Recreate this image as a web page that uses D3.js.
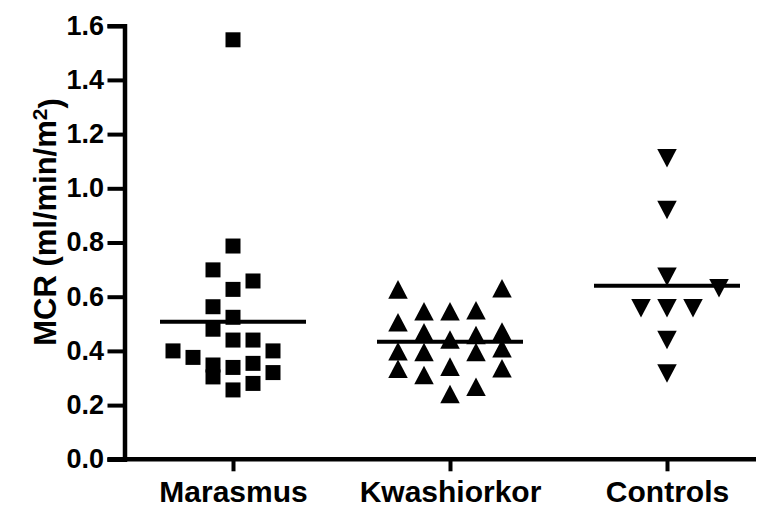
<!DOCTYPE html>
<html>
<head>
<meta charset="utf-8">
<script src="https://cdn.jsdelivr.net/npm/d3@7"></script>
<style>
  html, body { margin: 0; padding: 0; background: #fff; }
  svg { display: block; }
  text { font-family: "Liberation Sans", Arial, sans-serif; font-weight: bold; fill: #000; }
</style>
</head>
<body>
<svg id="chart" width="768" height="510"></svg>
<script>
// Groups shown along the x axis
const groups = ["Marasmus", "Kwashiorkor", "Controls"];

// MCR values (ml/min/m²) per subject, with the scatter column each point sits in
const marasmusValues = [1.548, 0.787, 0.699, 0.658, 0.627, 0.563, 0.524, 0.480, 0.440, 0.440,
                        0.400, 0.376, 0.400, 0.348, 0.304, 0.339, 0.354, 0.320, 0.280, 0.256];
const marasmusCols   = [0, 0, -1, 1, 0, -1, 0, -1, 0, 1,
                        -3, -2, 2, -1, -1, 0, 1, 2, 1, 0];

const kwashiorkorValues = [0.627, 0.631, 0.546, 0.546, 0.550, 0.506, 0.469, 0.442, 0.459, 0.472,
                           0.399, 0.396, 0.396, 0.410, 0.334, 0.311, 0.342, 0.336, 0.241, 0.268];
const kwashiorkorCols   = [-2, 2, -1, 0, 1, -2, -1, 0, 1, 2,
                           -2, -1, 1, 2, -2, -1, 0, 2, 0, 1];

const controlsValues = [1.111, 0.920, 0.674, 0.631, 0.557, 0.557, 0.557, 0.440, 0.317];
const controlsCols   = [0, 0, 0, 2, -1, 0, 1, 0, 0];

// Y axis ticks
const yTicks = [0, 0.2, 0.4, 0.6, 0.8, 1.0, 1.2, 1.4, 1.6];

const series = [
  { name: "Marasmus",    values: marasmusValues,    cols: marasmusCols,    marker: "square" },
  { name: "Kwashiorkor", values: kwashiorkorValues, cols: kwashiorkorCols, marker: "up" },
  { name: "Controls",    values: controlsValues,    cols: controlsCols,    marker: "down" }
];

const svg = d3.select("#chart");
svg.append("rect").attr("width", 768).attr("height", 510).attr("fill", "#fff");

const axisX = 124.5;     // position of the vertical axis line
const baseY = 459.3;     // y of the value 0
const topY = 25.7;       // y of the value 1.6

const y = d3.scaleLinear().domain([0, 1.6]).range([baseY, topY]);
const x = d3.scalePoint().domain(groups).range([233, 667]);

// Column spacing for the scatter of each marker type
const colStep = { square: 20, up: 26, down: 26 };

// Triangle markers: size = width of the triangle
const triUp = {
  draw(ctx, s) {
    const h = s * 0.95;
    ctx.moveTo(0, -h / 2);
    ctx.lineTo(s / 2, h / 2);
    ctx.lineTo(-s / 2, h / 2);
    ctx.closePath();
  }
};
const triDown = {
  draw(ctx, s) {
    const h = s * 0.95;
    ctx.moveTo(0, h / 2);
    ctx.lineTo(s / 2, -h / 2);
    ctx.lineTo(-s / 2, -h / 2);
    ctx.closePath();
  }
};
const squareSym = {
  draw(ctx, s) { ctx.rect(-s / 2, -s / 2, s, s); }
};
const symbolFor = {
  square: d3.symbol().type(squareSym).size(15),
  up: d3.symbol().type(triUp).size(19.5),
  down: d3.symbol().type(triDown).size(19.5)
};

// Y axis
const yAxis = d3.axisLeft(y)
  .tickValues(yTicks)
  .tickFormat(d3.format(".1f"))
  .tickSize(17)
  .tickSizeOuter(17)
  .tickPadding(3.5);

const gy = svg.append("g").attr("transform", `translate(${axisX},0)`).call(yAxis);
gy.select(".domain").attr("stroke", "#000").attr("stroke-width", 4.5)
  .attr("stroke-linejoin", "miter").attr("fill", "none");
gy.selectAll(".tick line").attr("stroke", "#000").attr("stroke-width", 4);
gy.selectAll(".tick text")
  .attr("font-size", 27)
  .attr("font-family", "Liberation Sans, Arial, sans-serif")
  .attr("font-weight", "bold")
  .attr("fill", "#000")
  .attr("dy", "0.31em");

// X axis
const xAxis = d3.axisBottom(x).tickSize(12).tickSizeOuter(0).tickPadding(9);
const gx = svg.append("g").attr("transform", `translate(0,${baseY})`).call(xAxis);
gx.select(".domain")
  .attr("d", `M${axisX - 17},0H756`)
  .attr("stroke", "#000").attr("stroke-width", 4.5).attr("fill", "none");
gx.selectAll(".tick line").attr("stroke", "#000").attr("stroke-width", 4);
gx.selectAll(".tick text")
  .attr("font-size", 30)
  .attr("font-family", "Liberation Sans, Arial, sans-serif")
  .attr("font-weight", "bold")
  .attr("fill", "#000");

// Y axis title with superscript
const title = svg.append("text")
  .attr("transform", "translate(56,222) rotate(-90)")
  .attr("text-anchor", "middle")
  .attr("font-size", 31);
title.append("tspan").text("MCR (ml/min/m");
title.append("tspan").attr("font-size", 21).attr("dy", "-0.45em").text("2");
title.append("tspan").attr("dy", "0.45em").text(")");

// Points and mean lines
series.forEach(s => {
  const cx = x(s.name);
  const g = svg.append("g");
  g.selectAll("path.pt")
    .data(s.values.map((v, i) => ({ v, c: s.cols[i] })))
    .join("path")
    .attr("class", "pt")
    .attr("d", symbolFor[s.marker])
    .attr("transform", d => `translate(${cx + d.c * colStep[s.marker]},${y(d.v)})`)
    .attr("fill", "#000");

  const m = d3.mean(s.values);
  g.append("line")
    .attr("x1", cx - 73).attr("x2", cx + 73)
    .attr("y1", y(m)).attr("y2", y(m))
    .attr("stroke", "#000").attr("stroke-width", 4);
});
</script>
</body>
</html>
